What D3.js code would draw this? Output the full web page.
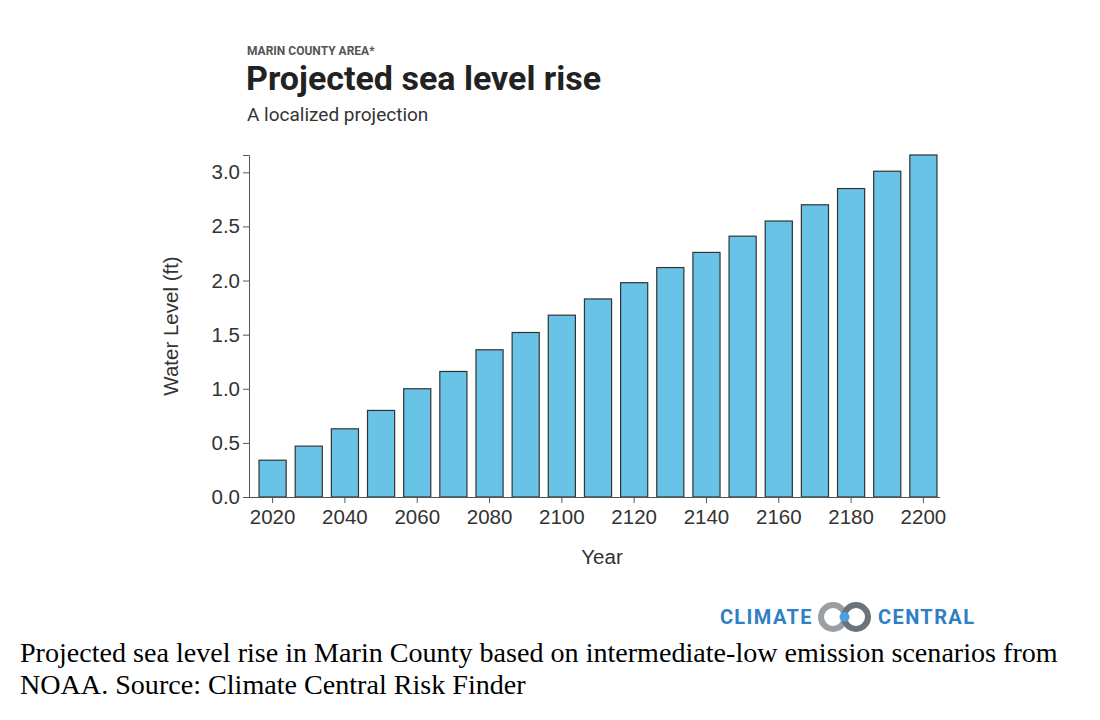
<!DOCTYPE html>
<html>
<head>
<meta charset="utf-8">
<script src="https://cdn.jsdelivr.net/npm/d3@7"></script>
<style>
  body { margin: 0; background: #fff; }
  svg { display: block; }
</style>
</head>
<body>
<svg id="chart" width="1100" height="720"></svg>
<script>
'use strict';

// data
const years = [2020, 2030, 2040, 2050, 2060, 2070, 2080, 2090, 2100, 2110,
  2120, 2130, 2140, 2150, 2160, 2170, 2180, 2190, 2200];
const levels = [0.34, 0.47, 0.63, 0.80, 1.00, 1.16, 1.36, 1.52, 1.68, 1.83,
  1.98, 2.12, 2.26, 2.41, 2.55, 2.70, 2.85, 3.01, 3.16];
const yTicks = [0, 0.5, 1.0, 1.5, 2.0, 2.5, 3.0];

const svg = d3.select('#chart');
const font = 'Roboto, "Open Sans", sans-serif';
const axisFont = '"Liberation Sans", Arial, sans-serif';

// header
svg.append('text').attr('x', 247).attr('y', 55)
  .attr('font-family', font).attr('font-size', 12).attr('font-weight', 700)
  .attr('fill', '#555').text('MARIN COUNTY AREA*');
svg.append('text').attr('x', 246).attr('y', 90)
  .attr('font-family', font).attr('font-size', 34).attr('font-weight', 700)
  .attr('fill', '#222').text('Projected sea level rise');
svg.append('text').attr('x', 247).attr('y', 121)
  .attr('font-family', font).attr('font-size', 19)
  .attr('fill', '#333').text('A localized projection');

// scales
const x = d3.scaleBand().domain(years).range([250, 946])
  .paddingInner(0.25).paddingOuter(0.25);
const y = d3.scaleLinear().domain([0, 3.16]).range([497, 155]);

// bars
svg.append('g').selectAll('rect').data(levels).join('rect')
  .attr('x', (d, i) => x(years[i]))
  .attr('y', d => y(d))
  .attr('width', x.bandwidth())
  .attr('height', d => y(0) - y(d))
  .attr('fill', '#69c3e6')
  .attr('stroke', '#333')
  .attr('stroke-width', 1.2);

// axes
const yAxis = svg.append('g').attr('transform', 'translate(249,0)')
  .call(d3.axisLeft(y).tickValues(yTicks).tickFormat(d3.format('.1f')).tickSize(6));
const xAxis = svg.append('g').attr('transform', 'translate(0,497)')
  .call(d3.axisBottom(x).tickValues(years.filter(d => d % 20 === 0)).tickSize(6).tickSizeOuter(0));

[yAxis, xAxis].forEach(a => {
  a.selectAll('path, line').attr('stroke', '#555');
  a.selectAll('text').attr('font-family', axisFont).attr('font-size', 20.5).attr('fill', '#333');
});
xAxis.select('.domain').attr('d', 'M249,0.5H940');
xAxis.selectAll('text').attr('dy', '0.9em');

svg.append('text').attr('x', 602).attr('y', 564).attr('text-anchor', 'middle')
  .attr('font-family', axisFont).attr('font-size', 20.5).attr('fill', '#333').text('Year');
svg.append('text').attr('transform', 'translate(178,326) rotate(-90)')
  .attr('text-anchor', 'middle')
  .attr('font-family', axisFont).attr('font-size', 20.5).attr('fill', '#333').text('Water Level (ft)');

// logo
const logo = svg.append('g');
logo.append('text').attr('x', 813).attr('y', 624).attr('text-anchor', 'end')
  .attr('font-family', font).attr('font-size', 20).attr('font-weight', 700)
  .attr('letter-spacing', 1.4).attr('fill', '#2f7fc4').text('CLIMATE');
logo.append('circle').attr('cx', 833).attr('cy', 617).attr('r', 12)
  .attr('fill', 'none').attr('stroke', '#9a9fa4').attr('stroke-width', 6);
logo.append('circle').attr('cx', 856).attr('cy', 617).attr('r', 12)
  .attr('fill', 'none').attr('stroke', '#6d7378').attr('stroke-width', 6);
logo.append('circle').attr('cx', 844.5).attr('cy', 617).attr('r', 5)
  .attr('fill', '#4f9ee0');
logo.append('text').attr('x', 878).attr('y', 624)
  .attr('font-family', font).attr('font-size', 20).attr('font-weight', 700)
  .attr('letter-spacing', 1.4).attr('fill', '#2f7fc4').text('CENTRAL');

// caption
const cap = svg.append('text').attr('font-family', '"Liberation Serif", "Times New Roman", serif')
  .attr('font-size', 28.1).attr('fill', '#000');
cap.append('tspan').attr('x', 20).attr('y', 662)
  .text('Projected sea level rise in Marin County based on intermediate-low emission scenarios from');
cap.append('tspan').attr('x', 20).attr('y', 694)
  .text('NOAA. Source: Climate Central Risk Finder');
</script>
</body>
</html>
